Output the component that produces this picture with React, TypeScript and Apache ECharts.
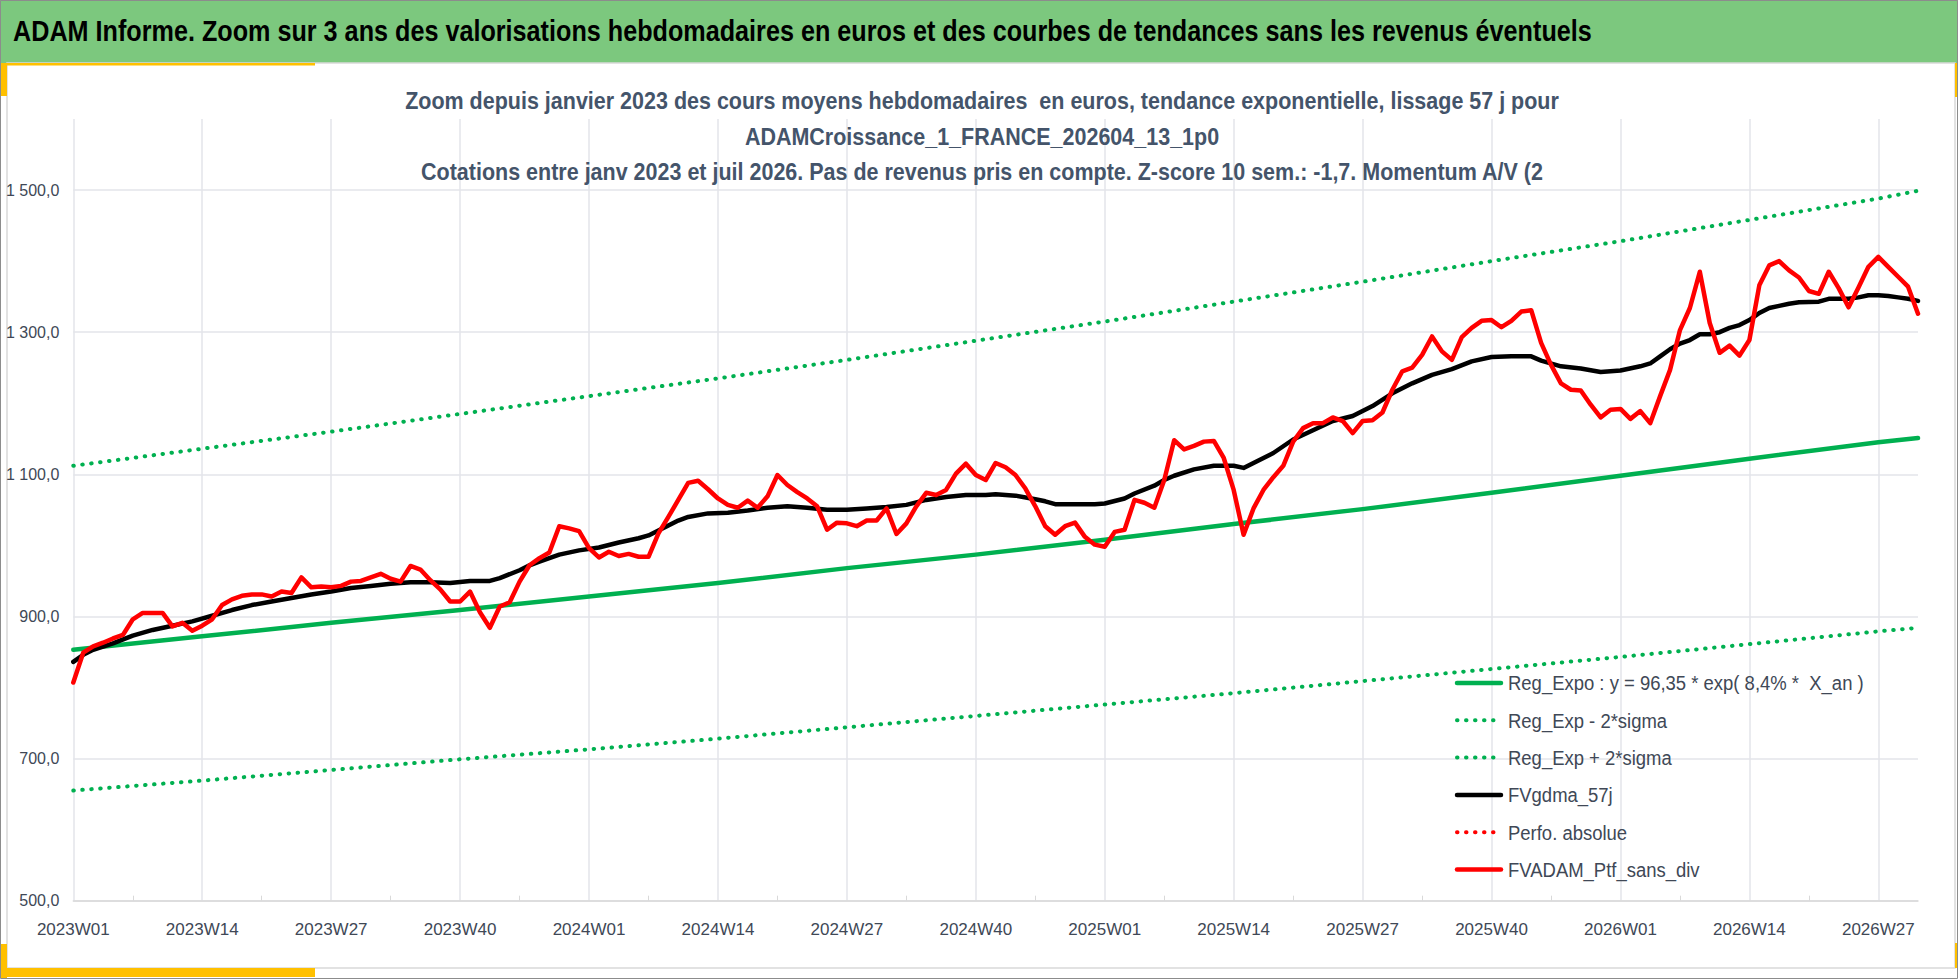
import { useEffect, useRef } from 'react'
import * as echarts from 'echarts'

const FONT = "'Liberation Sans', Arial, sans-serif"

// catégories : semaines ISO de 2023W01 à 2026W31
const years = [2023, 2024, 2025, 2026]
const weeksInYear = [52, 52, 52, 31]
const weeks: string[] = []
years.forEach((y, i) => {
  for (let w = 1; w <= weeksInYear[i]; w++) weeks.push(`${y}W${String(w).padStart(2, '0')}`)
})

// FVADAM_Ptf_sans_div, une valeur par semaine
const fvadam = [
  807, 849, 858, 863, 869, 874, 896, 905, 905, 905, 886, 891, 880,
  887, 896, 916, 924, 929, 931, 931, 928, 935, 933, 955, 941, 942,
  941, 943, 949, 950, 955, 960, 953, 949, 971, 966, 951, 938, 921,
  921, 935, 906, 884, 914, 920, 949, 972, 982, 990, 1027, 1024, 1020,
  996, 983, 991, 985, 988, 984, 984, 1017, 1040, 1064, 1088, 1091, 1079,
  1066, 1057, 1053, 1063, 1053, 1069, 1099, 1085, 1075, 1066, 1055, 1022, 1032,
  1031, 1027, 1035, 1035, 1052, 1016, 1031, 1055, 1074, 1071, 1078, 1101, 1115,
  1099, 1092, 1116, 1110, 1099, 1080, 1055, 1027, 1015, 1027, 1032, 1012, 1001,
  998, 1019, 1022, 1064, 1060, 1053, 1092, 1148, 1135, 1140, 1146, 1147, 1123,
  1078, 1015, 1052, 1078, 1096, 1112, 1146, 1165, 1172, 1172, 1180, 1175, 1158,
  1175, 1176, 1187, 1219, 1245, 1250, 1268, 1294, 1273, 1261, 1293, 1306, 1316,
  1317, 1307, 1316, 1329, 1331, 1285, 1254, 1228, 1219, 1218, 1198, 1180, 1191,
  1192, 1178, 1189, 1172, 1210, 1247, 1303, 1334, 1385, 1313, 1271, 1281, 1267,
  1289, 1366, 1394, 1400, 1387, 1377, 1358, 1354, 1385, 1362, 1335, 1363, 1392,
  1406, 1392, 1378, 1364, 1326,
]

// FVgdma_57j, relevé aux semaines indiquées (index dans weeks)
const gdmaWeeks = [
  0, 1, 2, 4, 6, 8, 10, 12, 14, 16, 18, 20, 22, 24, 26, 28, 30, 32, 34, 36, 38, 40,
  42, 43, 45, 46, 47, 49, 51, 53, 55, 57, 58, 59, 60, 61, 62, 64, 66, 68, 70, 72,
  74, 76, 78, 80, 82, 84, 86, 88, 90, 92, 93, 95, 97, 98, 99, 101, 103, 104, 106,
  107, 109, 110, 111, 113, 115, 117, 118, 119, 121, 123, 125, 127, 129, 131, 133,
  135, 137, 139, 141, 143, 145, 147, 148, 150, 152, 154, 156, 158, 159, 160, 161,
  162, 163, 164, 165, 166, 167, 168, 169, 170, 171, 172, 173, 174, 176, 177, 179,
  180, 181, 182, 183, 184, 185, 186,
]
const gdmaValues = [
  836, 846, 853, 862, 873, 881, 887, 893, 901, 909, 916, 921, 926, 931, 935, 940, 943, 946, 948, 948, 947, 950,
  950, 954, 965, 972, 977, 987, 993, 997, 1004, 1010, 1014, 1021, 1028, 1035, 1040, 1045, 1046, 1049, 1053, 1055,
  1053, 1050, 1050, 1052, 1054, 1057, 1064, 1068, 1071, 1071, 1072, 1070, 1065, 1062, 1058, 1058, 1058, 1059, 1066,
  1073, 1084, 1092, 1098, 1107, 1112, 1112, 1109, 1116, 1130, 1149, 1162, 1175, 1182, 1196, 1214,
  1228, 1240, 1248, 1259, 1265, 1266, 1266, 1260, 1252, 1249, 1244, 1246, 1252, 1256, 1266, 1276,
  1284, 1289, 1297, 1297, 1300, 1306, 1310, 1317, 1327, 1334, 1337, 1340, 1342, 1343, 1347, 1347,
  1349, 1352, 1352, 1351, 1349, 1347, 1344,
]

// courbes de tendance, relevées toutes les 13 semaines
const trendWeeks = [0, 13, 26, 39, 52, 65, 78, 91, 104, 117, 130, 143, 156, 169, 182, 186]
const regExpo = [853, 872, 891, 909, 928, 947, 968, 987, 1008, 1030, 1051, 1074, 1098, 1122, 1145, 1151]
const regLow = [655, 669, 684, 699, 713, 728, 744, 760, 776, 792, 809, 826, 843, 861, 879, 884]
const regHigh = [1112, 1136, 1160, 1185, 1210, 1235, 1261, 1288, 1315, 1343, 1371, 1400, 1428, 1458, 1488, 1499]

const headerText =
  'ADAM Informe. Zoom sur 3 ans des valorisations hebdomadaires en euros et des courbes de tendances sans les revenus éventuels'
const titleLines = [
  'Zoom depuis janvier 2023 des cours moyens hebdomadaires  en euros, tendance exponentielle, lissage 57 j pour',
  'ADAMCroissance_1_FRANCE_202604_13_1p0',
  'Cotations entre janv 2023 et juil 2026. Pas de revenus pris en compte. Z-score 10 sem.: -1,7. Momentum A/V (2',
]

const GREEN = '#00B050'
const RED = '#FF0000'
const YELLOW = '#FFC000'
const TEXT = '#404856'
const DOTS = [0.5, 8.5]

// styles des séries, dans l'ordre de la légende
const seriesDefs = [
  { name: 'Reg_Expo : y = 96,35 * exp( 8,4% *  X_an )', color: GREEN, width: 4.5, dash: null as number[] | null },
  { name: 'Reg_Exp - 2*sigma', color: GREEN, width: 4, dash: DOTS },
  { name: 'Reg_Exp + 2*sigma', color: GREEN, width: 4, dash: DOTS },
  { name: 'FVgdma_57j', color: '#000000', width: 4.5, dash: null },
  { name: 'Perfo. absolue', color: RED, width: 4, dash: DOTS },
  { name: 'FVADAM_Ptf_sans_div', color: RED, width: 4.5, dash: null },
]

const frFmt = (v: number) => {
  const s = v.toFixed(1).replace('.', ',')
  return v >= 1000 ? s.slice(0, -5) + ' ' + s.slice(-5) : s
}

const pairs = (xs: number[], ys: number[]) => xs.map((x, i) => [x, ys[i]])

export default function App() {
  const ref = useRef<HTMLDivElement>(null)

  useEffect(() => {
    if (!ref.current) return
    const chart = echarts.init(ref.current, null, { renderer: 'svg' })

    const seriesData = [
      pairs(trendWeeks, regExpo),
      pairs(trendWeeks, regLow),
      pairs(trendWeeks, regHigh),
      pairs(gdmaWeeks, gdmaValues),
      [],
      fvadam,
    ]

    // légende dessinée à la main pour garder la police étroite d'Excel
    const legendGraphics: any[] = []
    seriesDefs.forEach((s, i) => {
      const cy = 683 + i * 37.3
      legendGraphics.push({
        type: 'line',
        z: 100,
        shape: { x1: 1457, y1: cy, x2: 1501, y2: cy },
        style: { stroke: s.color, lineWidth: s.width, lineDash: s.dash ?? undefined, lineCap: 'round' },
      })
      legendGraphics.push({
        type: 'text',
        z: 100,
        x: 1508,
        y: cy,
        scaleX: 0.88,
        style: { text: s.name, fill: TEXT, font: `21px ${FONT}`, verticalAlign: 'middle' },
      })
    })

    chart.setOption({
      animation: false,
      backgroundColor: '#ffffff',
      textStyle: { fontFamily: FONT },
      graphic: [
        { type: 'rect', shape: { x: 0, y: 0, width: 1958, height: 63 }, style: { fill: '#7CC87E' }, z: -10 },
        { type: 'rect', shape: { x: 7, y: 63, width: 1948, height: 905 }, style: { fill: 'none', stroke: '#D9D9D9', lineWidth: 1.5 }, z: -10 },
        { type: 'rect', shape: { x: 0, y: 63, width: 315, height: 2.5 }, style: { fill: YELLOW } },
        { type: 'rect', shape: { x: 1, y: 63, width: 6, height: 33 }, style: { fill: YELLOW } },
        { type: 'rect', shape: { x: 1955, y: 63, width: 3, height: 34 }, style: { fill: YELLOW } },
        { type: 'rect', shape: { x: 1, y: 944, width: 6, height: 34 }, style: { fill: YELLOW } },
        { type: 'rect', shape: { x: 0, y: 968, width: 315, height: 9 }, style: { fill: YELLOW } },
        { type: 'rect', shape: { x: 1955, y: 943, width: 3, height: 25 }, style: { fill: YELLOW } },
        { type: 'rect', shape: { x: 0.5, y: 0.5, width: 1957, height: 978 }, style: { fill: 'none', stroke: '#8C8C8C', lineWidth: 1 } },
        {
          type: 'text', x: 13, y: 31, scaleX: 0.84, z: 100,
          style: { text: headerText, fill: '#000', font: `bold 30px ${FONT}`, verticalAlign: 'middle' },
        },
        ...titleLines.map((t, i) => ({
          type: 'text', x: 982, y: 101.5 + i * 35.5, scaleX: 0.935, z: 100,
          style: { text: t, fill: '#44546A', font: `bold 23px ${FONT}`, align: 'center', verticalAlign: 'middle' },
        })),
        ...legendGraphics,
      ],
      grid: { left: 73.3, top: 119, width: 1844.7, height: 781.7 },
      xAxis: {
        type: 'category',
        data: weeks,
        boundaryGap: false,
        axisLine: { lineStyle: { color: '#D9D9D9', width: 1.5 } },
        axisTick: { show: true, inside: true, length: 5, interval: (i: number) => i % 13 === 6, lineStyle: { color: '#D9D9D9' } },
        axisLabel: { interval: 12, margin: 20, fontSize: 17, color: TEXT, fontFamily: FONT },
        splitLine: { show: true, interval: 12, lineStyle: { color: '#E3E5EA', width: 1.5 } },
      },
      yAxis: {
        type: 'value',
        min: 500,
        max: 1600,
        interval: 100,
        axisLine: { show: false },
        axisTick: { show: false },
        axisLabel: {
          margin: 14,
          fontSize: 16,
          color: TEXT,
          fontFamily: FONT,
          formatter: (v: number) => (v % 200 === 100 ? frFmt(v) : ''),
        },
        splitLine: { show: true, showMaxLine: false, lineStyle: { color: ['#E3E5EA', 'rgba(0,0,0,0)'], width: 1.5 } },
      },
      series: seriesDefs.map((s, i) => ({
        name: s.name,
        type: 'line',
        data: seriesData[i],
        symbol: 'none',
        showSymbol: false,
        lineStyle: { color: s.color, width: s.width, type: s.dash ?? 'solid', cap: 'round', join: 'round' },
        itemStyle: { color: s.color },
        emphasis: { disabled: true },
      })),
    })

    return () => chart.dispose()
  }, [])

  return <div ref={ref} style={{ position: 'fixed', left: 0, top: 0, width: 1958, height: 979 }} />
}
